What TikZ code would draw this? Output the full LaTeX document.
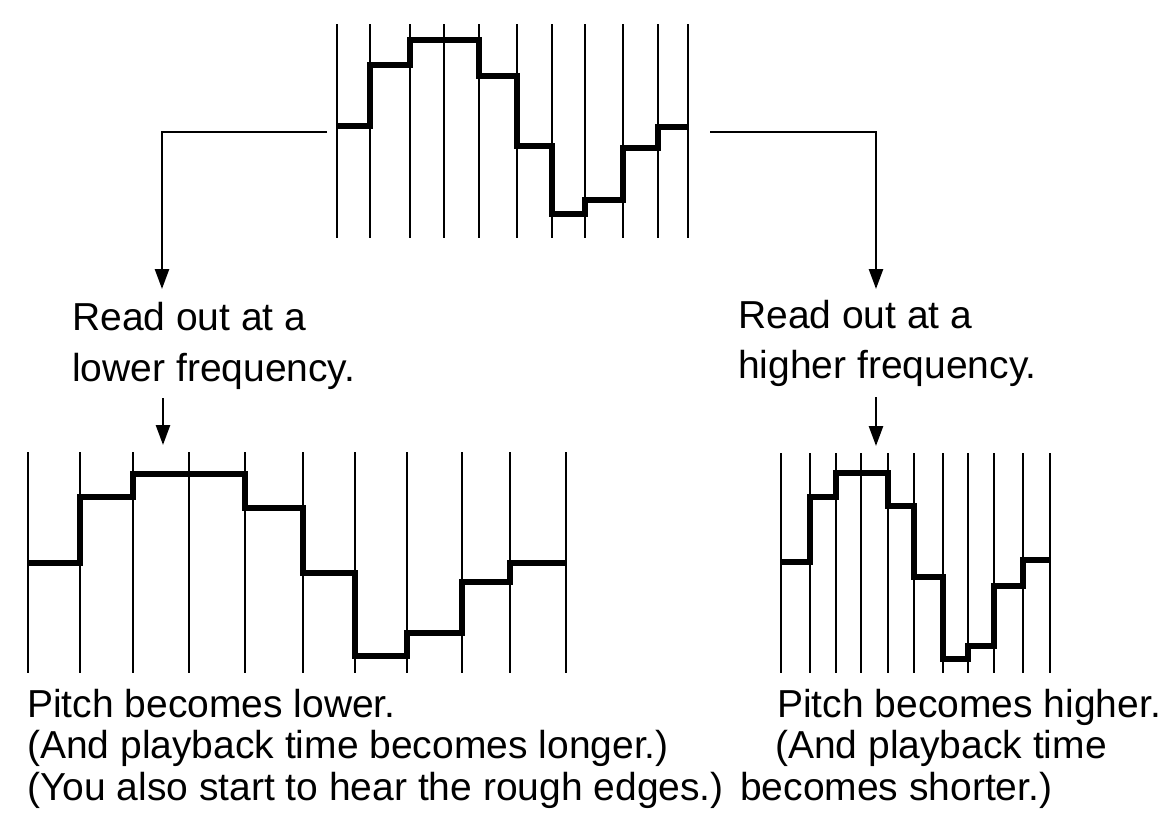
\documentclass[tikz,border=0pt]{standalone}
\usepackage{fontspec}
\setmainfont{Liberation Sans}
\usetikzlibrary{arrows.meta}
\begin{document}
\begin{tikzpicture}[x=1pt,y=-1pt,
  grid/.style={line width=2.8pt},
  stair/.style={line width=5.5pt, line join=miter},
  conn/.style={line width=2.6pt},
  arr/.style={conn,-{Triangle[length=20pt,width=14pt]}},
  lbl/.style={anchor=base west, inner sep=0pt, font=\fontsize{39}{46}\selectfont}]
\useasboundingbox[fill=white] (0,0) rectangle (1165,828);

% ---- top waveform ----
\foreach \x in {337,370,410,444,479,517,552,585,623,658,688}
  \draw[grid] (\x,24) -- (\x,238);
\draw[stair] (337,126) -- (370,126) -- (370,65) -- (410,65) -- (410,40) -- (479,40)
  -- (479,76) -- (517,76) -- (517,146) -- (552,146) -- (552,214) -- (585,214)
  -- (585,200) -- (623,200) -- (623,148) -- (658,148) -- (658,127) -- (688,127);

% ---- bottom-left waveform ----
\foreach \x in {28,80,133,189,245,303,355,407,462,510,566}
  \draw[grid] (\x,452) -- (\x,673);
\draw[stair] (28,563) -- (80,563) -- (80,497) -- (133,497) -- (133,474) -- (245,474)
  -- (245,508) -- (303,508) -- (303,573) -- (355,573) -- (355,656) -- (407,656)
  -- (407,633) -- (462,633) -- (462,582) -- (510,582) -- (510,563) -- (566,563);

% ---- bottom-right waveform ----
\foreach \x in {781,810,836,861,888,914,943,968,994,1023,1050}
  \draw[grid] (\x,453) -- (\x,673);
\draw[stair] (781,562) -- (810,562) -- (810,497) -- (836,497) -- (836,473) -- (888,473)
  -- (888,506) -- (914,506) -- (914,577) -- (943,577) -- (943,659) -- (968,659)
  -- (968,646) -- (994,646) -- (994,586) -- (1023,586) -- (1023,560) -- (1050,560);

% ---- connector coordinates ----
\coordinate (wl) at (327,132);
\coordinate (ltip) at (162,289);
\coordinate (wr) at (710,132);
\coordinate (rtip) at (876,289);
\coordinate (ls) at (163,398);
\coordinate (le) at (163,445);
\coordinate (rs) at (876,397);
\coordinate (re) at (876,446);

\draw[arr] (wl) -| (ltip);
\draw[arr] (wr) -| (rtip);
\draw[arr] (ls) -- (le);
\draw[arr] (rs) -- (re);

% ---- labels ----
\node[lbl] (la) at (72,330) {Read out at a};
\node[lbl] (lb) at (72,381) {lower frequency.};
\node[lbl] (ra) at (738,328) {Read out at a};
\node[lbl] (rb) at (738,378) {higher frequency.};

\node[lbl] (pl1) at (27,717) {Pitch becomes lower.};
\node[lbl] (pl2) at (27,758) {(And playback time becomes longer.)};
\node[lbl] (pl3) at (27,800) {(You also start to hear the rough edges.)};
\node[lbl] (pr1) at (777,717) {Pitch becomes higher.};
\node[lbl] (pr2) at (775,758) {(And playback time};
\node[lbl] (pr3) at (740,800) {becomes shorter.)};
\end{tikzpicture}
\end{document}
